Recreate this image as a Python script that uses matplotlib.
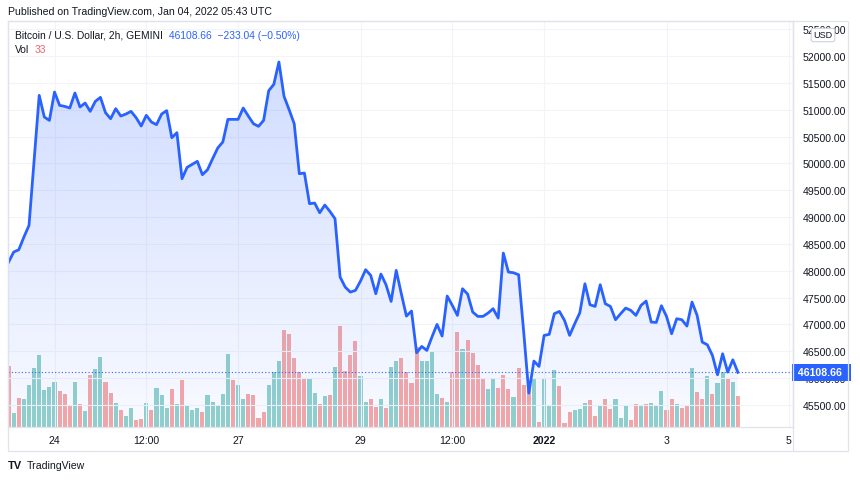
import numpy as np
import matplotlib
matplotlib.use("Agg")
import matplotlib.pyplot as plt
from matplotlib.patches import Polygon, Rectangle
from matplotlib.lines import Line2D
import matplotlib.transforms as mtransforms

# BTC/USD 2h closes, Dec 23 06:00 -> Jan 04 04:00
price = [48162, 48349, 48392, 48628, 48845, 50050, 51267, 50863, 50801, 51329,
         51081, 51062, 51031, 51311, 51050, 51124, 50969, 51155, 51230, 50944,
         50832, 51019, 50882, 50919, 50969, 50851, 50696, 50895, 50770, 50721,
         50919, 50982, 50478, 50572, 49715, 49926, 49982, 50038, 49789, 49882,
         50087, 50286, 50398, 50820, 50820, 50820, 51031, 50882, 50739, 50690,
         50801, 51354, 51472, 51888, 51249, 51000, 50739, 49808, 49820, 49249,
         49261, 49081, 49224, 49106, 48969, 47883, 47696, 47603, 47634, 47808,
         48019, 47914, 47572, 47939, 47740, 47429, 48007, 47572, 47156, 47249,
         46473, 46591, 46516, 46765, 47001, 46784, 47529, 47355, 47169, 47665,
         47566, 47231, 47150, 47150, 47212, 47293, 47119, 48330, 47976, 47963,
         47926, 46858, 45722, 46318, 46218, 46796, 46815, 47200, 47243, 47075,
         46796, 47013, 47218, 47758, 47367, 47336, 47740, 47386, 47336, 47088,
         47200, 47305, 47262, 47169, 47355, 47436, 47044, 47038, 47349, 47150,
         46827, 47107, 47088, 46970, 47417, 47169, 46672, 46622, 46423, 46063,
         46454, 46113, 46341.70, 46108.66]

volume = [65, 14.5, 31, 30, 45, 63, 77, 39, 43, 48,
          38, 35.5, 22, 47.5, 24, 17, 55, 62, 75, 47.5,
          36.5, 25.5, 18.5, 12, 20, 7.5, 9, 25.5, 18.5, 42,
          34, 20, 40, 24, 50, 22, 18.5, 20, 15.5, 34,
          27, 23, 35.5, 78, 50, 45, 30, 35.5, 34, 10,
          15.5, 45, 58, 70, 103, 99, 73, 59, 52.5, 51,
          36.5, 24, 32.5, 34, 63.5, 108, 60, 77, 91.5, 54,
          27, 30, 21, 30, 20, 63.5, 70, 73.5, 58, 46.5,
          85.5, 70, 70, 81, 35, 31, 26.5, 58, 101.5, 83.5,
          92.5, 78.5, 66.5, 52.5, 40, 51, 41, 55.5, 40, 32,
          62.5, 45, 40, 52.5, 5, 52, 23, 60.5, 43.5, 4.5,
          15.5, 18.5, 19, 25.5, 28.5, 12, 23, 29.5, 19, 29.5,
          10, 23, 7.5, 25, 22, 25, 25.5, 23, 38.5, 18.5,
          29.5, 25, 20, 22, 62.5, 37.5, 29.5, 54.5, 35.5, 46.5,
          58, 51, 48, 33]

# 1 = up bar (teal), 0 = down bar (red)
vol_up = [0, 1, 0, 1, 1, 1, 1, 1, 1, 1,
          0, 0, 0, 1, 0, 1, 0, 1, 1, 0,
          0, 1, 0, 1, 1, 0, 0, 1, 0, 1,
          1, 1, 0, 1, 0, 1, 1, 1, 0, 1,
          1, 1, 1, 1, 0, 1, 1, 0, 0, 0,
          0, 1, 1, 1, 0, 0, 0, 0, 0, 1,
          1, 0, 1, 0, 1, 0, 0, 0, 0, 1,
          1, 0, 0, 1, 0, 1, 1, 0, 0, 0,
          0, 1, 1, 1, 1, 0, 1, 0, 0, 1,
          0, 0, 0, 0, 1, 1, 0, 0, 0, 1,
          0, 0, 0, 1, 0, 1, 1, 1, 0, 0,
          0, 1, 1, 1, 0, 0, 1, 0, 0, 1,
          1, 1, 0, 0, 1, 0, 1, 1, 1, 0,
          0, 1, 0, 0, 1, 0, 0, 1, 0, 1,
          1, 0, 1, 0]

price_ticks = [45500, 46000, 46500, 47000, 47500, 48000, 48500,
               49000, 49500, 50000, 50500, 51000, 51500, 52000, 52500]
time_labels = ["24", "12:00", "27", "29", "12:00", "2022", "3", "5"]
time_label_bars = [9, 27, 45, 69, 87, 105, 129, 153]

plt.rcParams['font.family'] = ['Liberation Sans', 'DejaVu Sans']

W, H = 860, 481
fig = plt.figure(figsize=(W / 100, H / 100), dpi=100)


def fx(px):
    return px / W


def fy(py):
    return 1 - py / H


left, right, top, bottom = 8, 793, 22, 428
rect = [fx(left), fy(bottom), (right - left) / W, (bottom - top) / H]

blue = '#2962ff'
up_col = '#92d2cc'
down_col = '#f7a9a7'
grid_col = '#f2f4f9'
border = '#e0e3eb'
txt = '#131722'

x = np.arange(len(price))
xlim = (-0.12, 153.8)
ylim = (45090, 52652)

# volume pane underneath
axv = fig.add_axes(rect)
axv.bar(x, volume, width=0.8, color=[up_col if u else down_col for u in vol_up], zorder=2)
axv.set_xlim(*xlim)
axv.set_ylim(0, 432)
axv.axis('off')

# price pane on top
ax = fig.add_axes(rect)
ax.patch.set_alpha(0)

grad = np.zeros((256, 1, 4))
grad[..., 0] = 41 / 255
grad[..., 1] = 98 / 255
grad[..., 2] = 1.0
grad[:, 0, 3] = np.linspace(0.22, 0.03, 256)
im = ax.imshow(grad, aspect='auto', origin='upper',
               extent=[x[0], x[-1], ylim[0], max(price)], zorder=1)
verts = np.column_stack([np.r_[x, x[-1], x[0]], np.r_[price, ylim[0], ylim[0]]])
clip = Polygon(verts, closed=True, facecolor='none', edgecolor='none')
ax.add_patch(clip)
im.set_clip_path(clip)

ax.plot(x, price, color=blue, lw=2, zorder=3, solid_joinstyle='round')
ax.axhline(price[-1], color=blue, lw=0.8, ls=(0, (1, 2)), zorder=2)

ax.set_xlim(*xlim)
ax.set_ylim(*ylim)
ax.yaxis.tick_right()
ax.set_yticks(price_ticks)
ax.set_yticklabels(['%.2f' % p for p in price_ticks])
ax.set_xticks(time_label_bars)
ax.set_xticklabels(time_labels)
for lab in ax.get_xticklabels():
    if lab.get_text() == '2022':
        lab.set_fontweight('bold')
ax.tick_params(axis='y', length=0, pad=7, labelsize=7.6, labelcolor=txt)
ax.tick_params(axis='x', length=0, pad=6, labelsize=7.6, labelcolor=txt)
ax.grid(True, color=grid_col, lw=0.8)
ax.set_axisbelow(True)
for s in ax.spines.values():
    s.set_color(border)
    s.set_linewidth(0.9)

# frame around the whole chart block
fig.add_artist(Rectangle((fx(8), fy(452)), (848 - 8) / W, (452 - 22) / H,
                         transform=fig.transFigure, fill=False, ec=border, lw=0.9))
fig.add_artist(Line2D([fx(793), fx(793)], [fy(22), fy(452)], color=border, lw=0.9))

# last price label
trans = mtransforms.blended_transform_factory(ax.transAxes, ax.transData)
ax.text(1.003, price[-1], ' %.2f  ' % price[-1], transform=trans, ha='left', va='center',
        color='white', fontsize=7.6, fontweight='bold', clip_on=False, zorder=5,
        bbox=dict(boxstyle='square,pad=0.32', fc=blue, ec='none'))

# USD tag
fig.text(fx(823), fy(36), 'USD', ha='center', va='center', fontsize=6.5, color=txt,
         bbox=dict(boxstyle='round,pad=0.25', fc='white', ec='#c8ccd6', lw=0.7))

# header and legend
fig.text(fx(8), fy(12), 'Published on TradingView.com, Jan 04, 2022 05:43 UTC',
         fontsize=7.6, color=txt, va='center')
fig.text(fx(15), fy(36), 'Bitcoin / U.S. Dollar, 2h, GEMINI', fontsize=7.4, color=txt, va='center')
fig.text(fx(169), fy(36), '46108.66  \u2212233.04 (\u22120.50%)', fontsize=7.4, color=blue, va='center')
fig.text(fx(15), fy(50), 'Vol', fontsize=7.4, color=txt, va='center')
fig.text(fx(35), fy(50), '33', fontsize=7.4, color='#f0636a', va='center')

# footer
fig.text(fx(8), fy(466), 'TV', fontsize=8, fontweight='bold', color=txt, va='center')
fig.text(fx(27), fy(466), 'TradingView', fontsize=7.6, color=txt, va='center')

fig.savefig('out.png', dpi=100)
